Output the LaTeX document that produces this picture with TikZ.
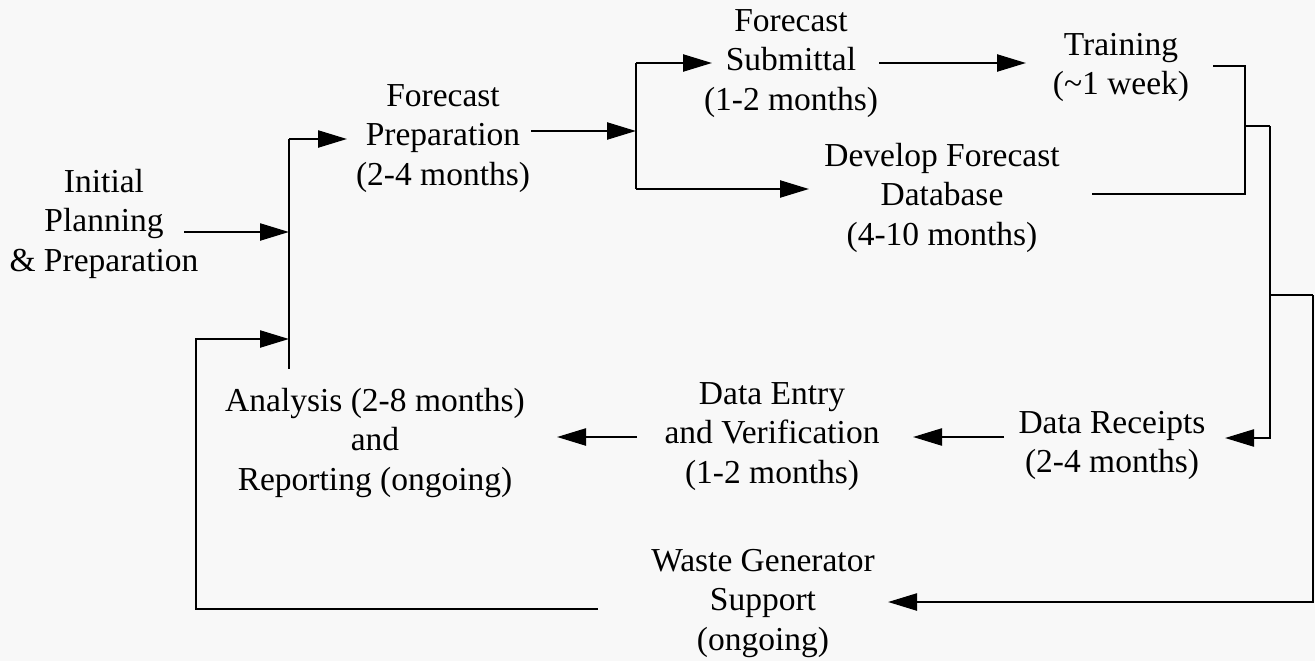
\documentclass[tikz,border=0pt]{standalone}
\usepackage{fontspec}
\setmainfont{Liberation Serif}
\usetikzlibrary{arrows.meta}
\definecolor{paper}{RGB}{248,248,248}
\tikzset{
  txt/.style={align=center, inner sep=0pt, font=\fontsize{33.5}{39.5}\selectfont},
  wire/.style={line width=2.3pt, black},
  arr/.style={wire, -{Triangle[length=29pt, width=17pt]}},
}
\newcommand{\lineS}[1]{#1\strut}
\begin{document}
\begin{tikzpicture}[x=1pt, y=-1pt]
  \fill[paper] (0,0) rectangle (1315,661);
  \useasboundingbox (0,0) rectangle (1315,661);

  % text nodes
  \node[txt] (init) at (104,224) {\lineS{Initial}\\\lineS{Planning}\\\lineS{\& Preparation}};
  \node[txt] (prep) at (443,138) {\lineS{Forecast}\\\lineS{Preparation}\\\lineS{(2-4 months)}};
  \node[txt] (sub)  at (791,63)  {\lineS{Forecast}\\\lineS{Submittal}\\\lineS{(1-2 months)}};
  \node[txt] (train) at (1121,67) {\lineS{Training}\\\lineS{(\textasciitilde 1 week)}};
  \node[txt] (db)   at (942,198) {\lineS{Develop Forecast}\\\lineS{Database}\\\lineS{(4-10 months)}};
  \node[txt] (recv) at (1112,445) {\lineS{Data Receipts}\\\lineS{(2-4 months)}};
  \node[txt] (entry) at (772,436) {\lineS{Data Entry}\\\lineS{and Verification}\\\lineS{(1-2 months)}};
  \node[txt] (anal) at (375,443) {\lineS{Analysis (2-8 months)}\\\lineS{and}\\\lineS{Reporting (ongoing)}};
  \node[txt] (waste) at (763,603) {\lineS{Waste Generator}\\\lineS{Support}\\\lineS{(ongoing)}};

  % junction coordinates
  \coordinate (jAtop) at (289,139);
  \coordinate (jAbot) at (289,369);
  \coordinate (jAinit) at (289,232);
  \coordinate (jAloop) at (289,339);
  \coordinate (initOut) at (184,232);
  \coordinate (loopA) at (196,339);
  \coordinate (loopB) at (196,609);
  \coordinate (loopC) at (598,609);
  \coordinate (prepIn) at (347,139);
  \coordinate (prepOut) at (531,131);
  \coordinate (jBmid) at (636,131);
  \coordinate (jBtop) at (636,63);
  \coordinate (jBbot) at (636,189);
  \coordinate (subIn) at (712,63);
  \coordinate (dbIn) at (809,189);
  \coordinate (subOut) at (879,63);
  \coordinate (trainIn) at (1026,63);
  \coordinate (trainOut) at (1213,66);
  \coordinate (jCtop) at (1245,66);
  \coordinate (jCmid) at (1245,126);
  \coordinate (jCbot) at (1245,194);
  \coordinate (dbOut) at (1092,194);
  \coordinate (jDtop) at (1270,126);
  \coordinate (jDmid) at (1270,295);
  \coordinate (jDbot) at (1270,438);
  \coordinate (recvIn) at (1225,438);
  \coordinate (jEtop) at (1313,295);
  \coordinate (jEbot) at (1313,602);
  \coordinate (wasteIn) at (888,602);
  \coordinate (recvOut) at (1004,437);
  \coordinate (entryIn) at (913,437);
  \coordinate (entryOut) at (637,437);
  \coordinate (analIn) at (557,437);

  % connectors
  \draw[wire] (jAtop) -- (jAbot);
  \draw[arr] (initOut) -- (jAinit);
  \draw[arr] (loopC) -- (loopB) -- (loopA) -- (jAloop);
  \draw[arr] (jAtop) -- (prepIn);
  \draw[arr] (prepOut) -- (jBmid);
  \draw[wire] (jBtop) -- (jBbot);
  \draw[arr] (jBtop) -- (subIn);
  \draw[arr] (jBbot) -- (dbIn);
  \draw[arr] (subOut) -- (trainIn);
  \draw[wire] (trainOut) -- (jCtop) -- (jCbot) -- (dbOut);
  \draw[wire] (jCmid) -- (jDtop);
  \draw[arr] (jDtop) -- (jDbot) -- (recvIn);
  \draw[wire] (jDmid) -- (jEtop);
  \draw[arr] (jEtop) -- (jEbot) -- (wasteIn);
  \draw[arr] (recvOut) -- (entryIn);
  \draw[arr] (entryOut) -- (analIn);
\end{tikzpicture}
\end{document}
